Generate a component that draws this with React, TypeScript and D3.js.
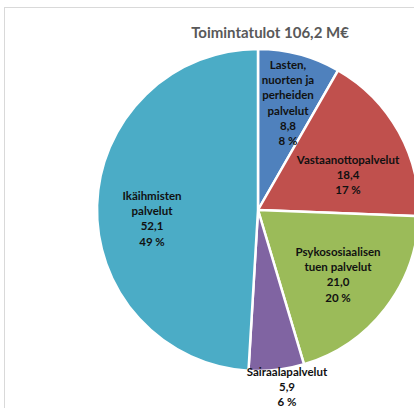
import React from "react";
import * as d3 from "d3";

const categories = [
  "Lasten, nuorten ja perheiden palvelut",
  "Vastaanottopalvelut",
  "Psykososiaalisen tuen palvelut",
  "Sairaalapalvelut",
  "Ikäihmisten palvelut",
];
const values = [8.8, 18.4, 21.0, 5.9, 52.1];
const valueLabels = ["8,8", "18,4", "21,0", "5,9", "52,1"];
const percentLabels = ["8 %", "17 %", "20 %", "6 %", "49 %"];
const labelLines = [
  ["Lasten,", "nuorten ja", "perheiden", "palvelut"],
  ["Vastaanottopalvelut"],
  ["Psykososiaalisen", "tuen palvelut"],
  ["Sairaalapalvelut"],
  ["Ikäihmisten", "palvelut"],
];
const colors = ["#4F81BD", "#C0504D", "#9BBB59", "#8064A2", "#4BACC6"];
const title = "Toimintatulot 106,2 M€";

// label anchor positions (center x, first line y) relative to the pie centre
const labelOffsets: [number, number][] = [
  [30, -141],
  [90, -46],
  [80, 46],
  [29, 166],
  [-106, -10],
];

export default function App() {
  const W = 414;
  const H = 408;
  const cx = 258;
  const cy = 210;
  const r = 161;
  const pie = d3.pie<number>().sort(null).value((d) => d)(values);
  const arc = d3.arc<d3.PieArcDatum<number>>().innerRadius(0).outerRadius(r);
  const lh = 15.2;
  return (
    <div style={{ position: "absolute", left: 0, top: 0 }}>
      <svg width={W} height={H} style={{ display: "block" }}>
        <rect x={0} y={0} width={W} height={H} fill="#fff" />
        <rect x={4.5} y={7.5} width={W + 20} height={H + 20} fill="none" stroke="#d9d9d9" strokeWidth={1} />
        <text
          x={270}
          y={38}
          textAnchor="middle"
          fontFamily="Lato, 'Open Sans', sans-serif"
          fontWeight="bold"
          fontSize={15}
          fill="#595959"
        >
          {title}
        </text>
        <g transform={`translate(${cx},${cy})`}>
          {pie.map((p, i) => (
            <path key={categories[i]} d={arc(p) || ""} fill={colors[i]} stroke="#fff" strokeWidth={2.5} strokeLinejoin="round" />
          ))}
          {pie.map((p, i) => {
            const lines = [...labelLines[i], valueLabels[i], percentLabels[i]];
            const [ox, oy] = labelOffsets[i];
            return (
              <text
                key={"l" + i}
                x={ox}
                y={oy}
                textAnchor="middle"
                fontFamily="Lato, 'Open Sans', sans-serif"
                fontWeight="bold"
                fontSize={11.5}
                fill="#111"
              >
                {lines.map((t, j) => (
                  <tspan key={j} x={ox} dy={j === 0 ? 0 : lh}>
                    {t}
                  </tspan>
                ))}
              </text>
            );
          })}
        </g>
      </svg>
    </div>
  );
}
